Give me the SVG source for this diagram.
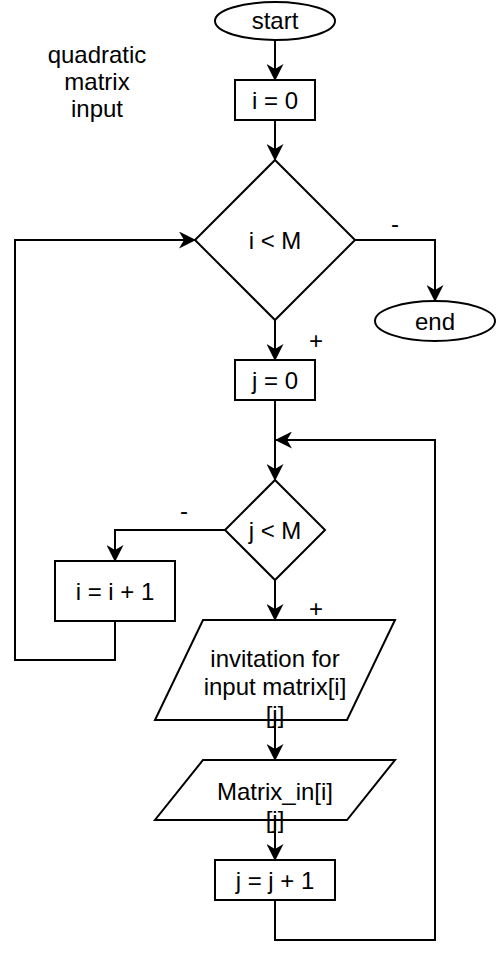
<svg xmlns="http://www.w3.org/2000/svg" width="496" height="958" viewBox="0 0 496 958">
<style>
.s{fill:#fff;stroke:#000;stroke-width:2}
.c{fill:none;stroke:#000;stroke-width:2;marker-end:url(#ah)}
.t{font-family:"Liberation Sans",Arial,sans-serif;font-size:24px;fill:#000;text-anchor:middle}
</style>
<defs>
<marker id="ah" markerUnits="userSpaceOnUse" markerWidth="17" markerHeight="17" refX="16" refY="8.5" orient="auto">
<path d="M0,0 L17,8.5 L0,17 L5,8.5 z" fill="#000"/>
</marker>
</defs>
<rect width="496" height="958" fill="#fff"/>
<g id="connectors">
<path class="c" d="M275,40 V80"/>
<path class="c" d="M275,120 V160"/>
<path class="c" d="M355,240 H435 V301"/>
<path class="c" d="M275,320 V360"/>
<path class="c" d="M275,400 V480"/>
<path class="c" d="M225,530 H115 V561"/>
<path class="c" d="M115,621 V660 H15 V240 H195"/>
<path class="c" d="M275,580 V620"/>
<path class="c" d="M275,720 V760"/>
<path class="c" d="M275,820 V860"/>
<path class="c" d="M275,900 V940 H435 V440 H276"/>
<text class="t" x="395" y="232">-</text>
<text class="t" x="316" y="349">+</text>
<text class="t" x="184" y="519">-</text>
<text class="t" x="316" y="617">+</text>
</g>
<g id="note">
<text class="t" x="97" y="63">quadratic</text>
<text class="t" x="97" y="90">matrix</text>
<text class="t" x="97" y="117">input</text>
</g>
<g id="start">
<ellipse class="s" cx="275" cy="21" rx="60" ry="19"/>
<text class="t" x="275" y="29">start</text>
</g>
<g id="i0">
<rect class="s" x="235" y="80" width="80" height="40"/>
<text class="t" x="275" y="109">i = 0</text>
</g>
<g id="ilessM">
<polygon class="s" points="275,160 355,240 275,320 195,240"/>
<text class="t" x="275" y="249">i &lt; M</text>
</g>
<g id="end">
<ellipse class="s" cx="435" cy="321" rx="60" ry="20"/>
<text class="t" x="435" y="330">end</text>
</g>
<g id="j0">
<rect class="s" x="235" y="360" width="80" height="40"/>
<text class="t" x="275" y="389">j = 0</text>
</g>
<g id="jlessM">
<polygon class="s" points="275,480 325,530 275,580 225,530"/>
<text class="t" x="275" y="539">j &lt; M</text>
</g>
<g id="iinc">
<rect class="s" x="55" y="561" width="120" height="60"/>
<text class="t" x="115" y="600">i = i + 1</text>
</g>
<g id="invitation">
<polygon class="s" points="203,620 395,620 347,720 155,720"/>
<text class="t" x="275" y="667">invitation for</text>
<text class="t" x="275" y="695">input matrix[i]</text>
<text class="t" x="275" y="723">[j]</text>
</g>
<g id="matrixin">
<polygon class="s" points="203,760 395,760 347,820 155,820"/>
<text class="t" x="275" y="800">Matrix_in[i]</text>
<text class="t" x="275" y="828">[j]</text>
</g>
<g id="jinc">
<rect class="s" x="215" y="860" width="120" height="40"/>
<text class="t" x="275" y="889">j = j + 1</text>
</g>
</svg>
